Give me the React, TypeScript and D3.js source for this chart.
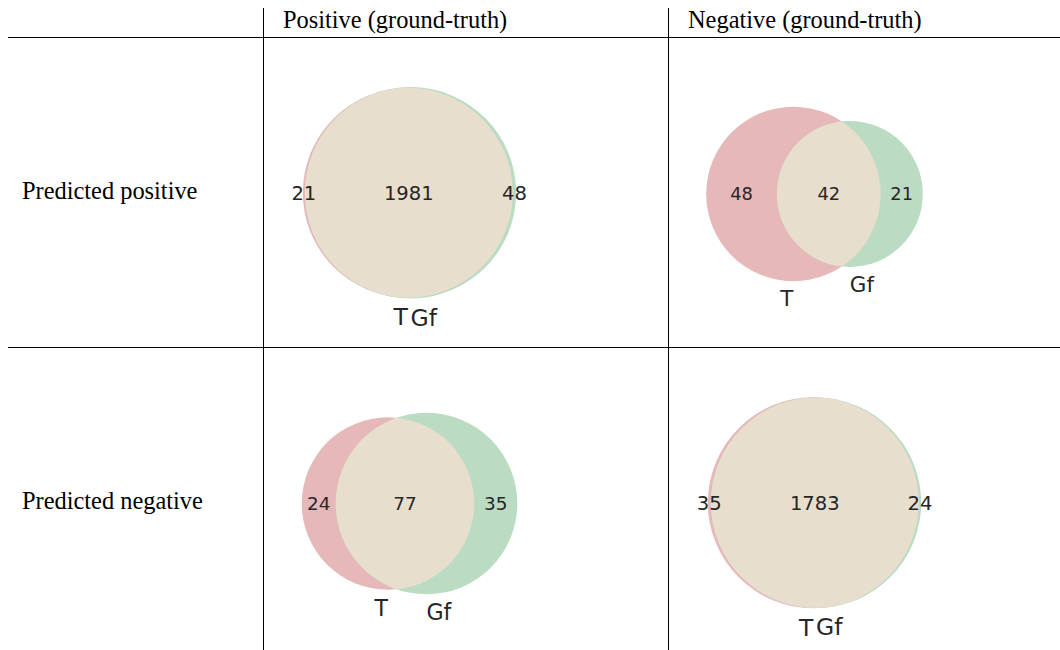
import * as d3 from "d3";

// table headers
const colLabels = ["Positive (ground-truth)", "Negative (ground-truth)"];
const rowLabels = ["Predicted positive", "Predicted negative"];
const setNames = ["T", "Gf"];

// cells, row-major: [pred+/gt+, pred+/gt-, pred-/gt+, pred-/gt-]
const onlyT = [21, 48, 24, 35];
const onlyGf = [48, 21, 35, 24];
const both = [1981, 42, 77, 1783];

const W = 1060, H = 650;
const COL_X = [263, 668];
const LINE_Y = [37, 347];
const ROW_MID = [206.5, 516.5];
const ROW_BASE = [199, 509];
const BOX = 251;

const RED = "#e7b8ba";
const GREEN = "#bbdcc3";
const MIX = "#e8decd";
const INK = "#262626";
const SERIF = "'Liberation Serif', 'DejaVu Serif', serif";
const SANS = "'DejaVu Sans', sans-serif";

function overlap(r1: number, r2: number, d: number) {
  if (d >= r1 + r2) return 0;
  if (d <= Math.abs(r1 - r2)) return Math.PI * Math.min(r1, r2) ** 2;
  const a1 = r1 * r1 * Math.acos((d * d + r1 * r1 - r2 * r2) / (2 * d * r1));
  const a2 = r2 * r2 * Math.acos((d * d + r2 * r2 - r1 * r1) / (2 * d * r2));
  const k = 0.5 * Math.sqrt((-d + r1 + r2) * (d + r1 - r2) * (d - r1 + r2) * (d + r1 + r2));
  return a1 + a2 - k;
}

// area-proportional two-set layout (total area normalised to 1)
function venn2(a: number, b: number, ab: number) {
  const tot = a + b + ab;
  const A = (a + ab) / tot, B = (b + ab) / tot, AB = ab / tot;
  const rA = Math.sqrt(A / Math.PI), rB = Math.sqrt(B / Math.PI);
  let lo = Math.abs(rA - rB), hi = rA + rB;
  for (let i = 0; i < 80; i++) {
    const mid = (lo + hi) / 2;
    if (overlap(rA, rB, mid) > AB) lo = mid; else hi = mid;
  }
  const d = (lo + hi) / 2;
  const m = (B * d) / (A + B);
  return { rA, rB, xA: -m, xB: d - m };
}

function Venn({ idx }: { idx: number }) {
  const row = Math.floor(idx / 2), col = idx % 2;
  const L = venn2(onlyT[idx], onlyGf[idx], both[idx]);
  const minX = Math.min(L.xA - L.rA, L.xB - L.rB);
  const maxX = Math.max(L.xA + L.rA, L.xB + L.rB);
  const k = BOX / (maxX - minX + 0.2);
  const fs = k * 0.104;
  const setFs = fs * 1.2;
  const cx = COL_X[col] + 146.5;
  const cy = ROW_MID[row] - (0.055 * k + 0.73 * setFs) / 2;
  const mid = (minX + maxX) / 2;
  const x = d3.scaleLinear().domain([mid, mid + 1]).range([cx, cx + k]);
  const r = (v: number) => v * k;

  const leftA = L.xA - L.rA, leftB = L.xB - L.rB;
  const rightA = L.xA + L.rA, rightB = L.xB + L.rB;
  const labels = [
    { v: onlyT[idx], x: (leftA + leftB) / 2 },
    { v: both[idx], x: (leftB + rightA) / 2 },
    { v: onlyGf[idx], x: (rightA + rightB) / 2 },
  ];
  const clipId = `clipA${idx}`;
  const setY = [cy + r(L.rA) + 0.055 * k + 0.73 * setFs, cy + r(L.rB) + 0.055 * k + 0.73 * setFs];

  return (
    <g>
      <defs>
        <clipPath id={clipId}>
          <circle cx={x(L.xA)} cy={cy} r={r(L.rA)} />
        </clipPath>
      </defs>
      <circle cx={x(L.xA)} cy={cy} r={r(L.rA)} fill={RED} />
      <circle cx={x(L.xB)} cy={cy} r={r(L.rB)} fill={GREEN} />
      <circle cx={x(L.xB)} cy={cy} r={r(L.rB)} fill={MIX} clipPath={`url(#${clipId})`} />
      {labels.map((l, i) => (
        <text key={i} x={x(l.x)} y={cy + 0.36 * fs} textAnchor="middle"
          fontFamily={SANS} fontSize={fs} fill={INK}>{l.v}</text>
      ))}
      <text x={x(L.xA)} y={setY[0]} textAnchor="end" fontFamily={SANS} fontSize={setFs} fill={INK}>{setNames[0]}</text>
      <text x={x(L.xB)} y={setY[1]} textAnchor="start" fontFamily={SANS} fontSize={setFs} fill={INK}>{setNames[1]}</text>
    </g>
  );
}

export default function App() {
  return (
    <svg width={W} height={H} style={{ position: "absolute", left: 0, top: 0, background: "#fff" }}>
      <rect width={W} height={H} fill="#fff" />
      {COL_X.map((cx) => (
        <line key={cx} x1={cx + 0.5} x2={cx + 0.5} y1={8} y2={H} stroke="#000" strokeWidth={1} />
      ))}
      {LINE_Y.map((ly) => (
        <line key={ly} x1={8} x2={W} y1={ly + 0.5} y2={ly + 0.5} stroke="#000" strokeWidth={1} />
      ))}
      {colLabels.map((t, i) => (
        <text key={t} x={COL_X[i] + 20} y={28} fontFamily={SERIF} fontSize={24.4} fill="#000">{t}</text>
      ))}
      {rowLabels.map((t, i) => (
        <text key={t} x={22} y={ROW_BASE[i]} fontFamily={SERIF} fontSize={24.4} fill="#000">{t}</text>
      ))}
      {[0, 1, 2, 3].map((i) => <Venn key={i} idx={i} />)}
    </svg>
  );
}
